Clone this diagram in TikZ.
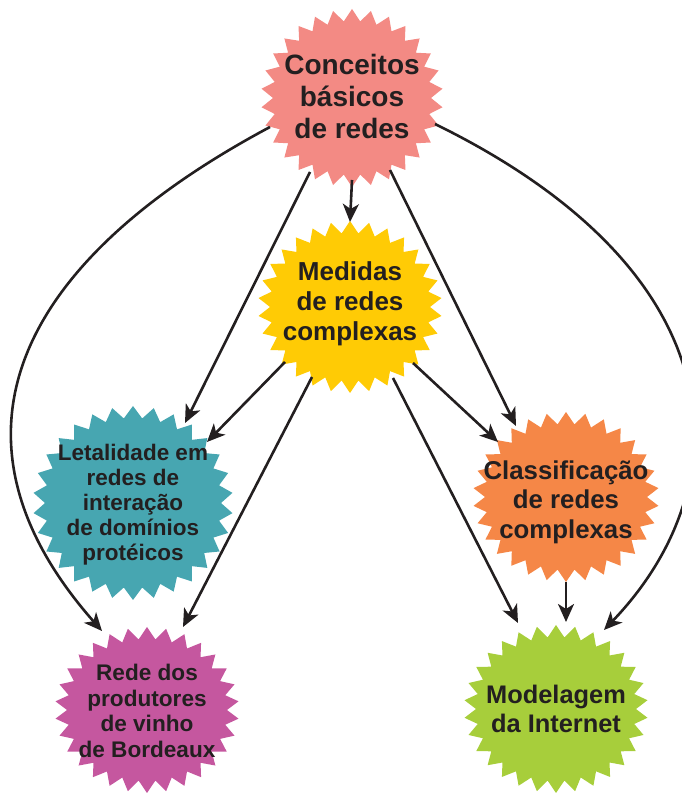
\documentclass[tikz,border=0pt]{standalone}
\usepackage{fontspec}
\setmainfont{Liberation Sans}
\usetikzlibrary{arrows.meta,calc}

\definecolor{ink}{HTML}{231F20}
\definecolor{burstpink}{HTML}{F38A84}
\definecolor{burstgold}{HTML}{FFCB05}
\definecolor{burstteal}{HTML}{47A6B1}
\definecolor{burstorange}{HTML}{F58747}
\definecolor{burstmagenta}{HTML}{C5579F}
\definecolor{burstgreen}{HTML}{A7CE3B}

% Saw-toothed badge: centre (#1,#2), radii #3/#4, colour #5; 30 points, teeth 12pt deep
\newcommand\burstshape[5]{%
  \fill[#5] ({#1},{#2+#4})
    \foreach \k in {1,...,59}{
      -- ({#1+cos(90+6*\k)*(#3-mod(\k,2)*12)},{#2+sin(90+6*\k)*(#4-mod(\k,2)*12)})
    } -- cycle;
}

\begin{document}
\begin{tikzpicture}[x=1pt,y=1pt,
  lbl/.style 2 args={align=center,inner sep=0pt,text=ink,
    font=\bfseries\fontsize{#1}{#2}\selectfont},
  link/.style={draw=ink,line width=2.6pt,
    -{Stealth[length=18pt,width=16pt,inset=5pt]}}]
\useasboundingbox (0,0) rectangle (682,795);

% badges
\burstshape{352}{697}{91}{89}{burstpink}
\burstshape{350}{488}{92}{86}{burstgold}
\burstshape{133}{292}{100}{97}{burstteal}
\burstshape{566}{298}{93}{85}{burstorange}
\burstshape{147}{85}{92}{83}{burstmagenta}
\burstshape{556}{86}{92}{84}{burstgreen}

% labels
\node[lbl={28}{32}] (c1) at (352,698) {Conceitos\\básicos\\de redes};
\node[lbl={26}{30}] (c2) at (350,491) {Medidas\\de redes\\complexas};
\node[lbl={22.5}{25}] (c3) at (133,290) {Letalidade em\\redes de\\interação\\de domínios\\protéicos};
\node[lbl={25.8}{29.5}] (c4) at (566,293) {Classificação\\de redes\\complexas};
\node[lbl={22.6}{25.5}] (c5) at (147,84) {Rede dos\\produtores\\de vinho\\de Bordeaux};
\node[lbl={25.4}{29.5}] (c6) at (556,86) {Modelagem\\da Internet};

% straight links
\draw[link] ($(c1)+(0,-83)$) -- ($(c2)+(0,82)$);
\draw[link] ($(c1)+(-42,-75)$) -- ($(c3)+(52,82)$);
\draw[link] ($(c1)+(38,-73)$) -- ($(c4)+(-50,76)$);
\draw[link] ($(c2)+(-65,-58)$) -- ($(c3)+(74,63)$);
\draw[link] ($(c2)+(-38,-73)$) -- ($(c5)+(36,84)$);
\draw[link] ($(c2)+(63,-59)$) -- ($(c4)+(-68,60)$);
\draw[link] ($(c2)+(43,-74)$) -- ($(c6)+(-38,86)$);
\draw[link] ($(c4)+(0,-80)$) -- ($(c6)+(10,87)$);

% long curved links
\draw[link] ($(c1)+(-82,-30)$) .. controls +(-264,-141) and +(-165,187) .. ($(c5)+(-45,80)$);
\draw[link] ($(c1)+(83,-27)$) .. controls +(306,-150) and +(138,144) .. ($(c6)+(48,79)$);
\end{tikzpicture}
\end{document}
